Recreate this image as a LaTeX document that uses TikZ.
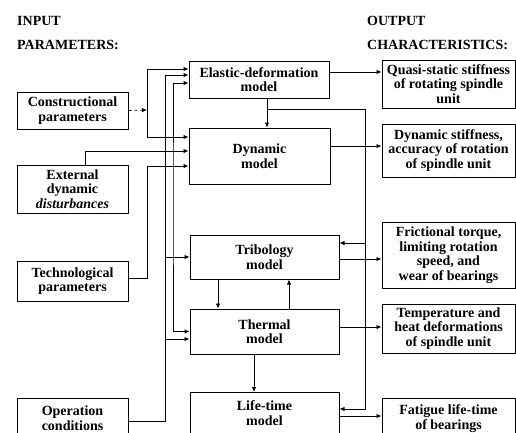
\documentclass[tikz,border=0pt]{standalone}
\usepackage{fontspec}
\setmainfont{Liberation Serif}
\usetikzlibrary{arrows.meta,positioning,calc}

\begin{document}
\begin{tikzpicture}[x=1pt, y=-1pt,
  box/.style={rectangle, draw=black, line width=1pt, inner sep=1pt,
              font=\fontsize{14}{14.5}\selectfont\bfseries, align=center},
  inbox/.style={box, minimum width=111pt},
  model/.style={box, minimum width=149pt},
  outbox/.style={box, minimum width=133pt},
  head/.style={anchor=west, inner sep=1pt, font=\fontsize{14}{14.5}\selectfont\bfseries},
  arr/.style={-{Latex[length=5pt,width=4.5pt]}, line width=0.8pt},
  dbl/.style={{Latex[length=5pt,width=4.5pt]}-{Latex[length=5pt,width=4.5pt]}, line width=0.8pt}
]
\useasboundingbox (0,0) rectangle (516,432);

% Headings
\node[head] (inhead) at (16,21) {INPUT};
\node[head] (inparam) at (16,45) {PARAMETERS:};
\node[head] (outhead) at (366,21) {OUTPUT};
\node[head] (outchar) at (366,45) {CHARACTERISTICS:};

% Input parameters
\node[inbox, minimum height=37pt] (constr) at (72.5,110.5) {Constructional\\parameters};
\node[inbox, minimum height=48pt] (extdist) at (72.5,189) {External\\dynamic\\\textit{disturbances}};
\node[inbox, minimum height=40pt] (techn) at (72.5,281) {Technological\\parameters};
\node[inbox, anchor=north, text depth=40pt] (oper) at (72.5,398) {\rule{0pt}{16pt}Operation\\conditions};

% Models
\node[model, minimum width=140pt, minimum height=37pt] (elastic) at (259,79.5) {Elastic-deformation\\model};
\node[model, minimum width=141pt, minimum height=56pt] (dynamic) at (259.5,156) {Dynamic\\model};
\node[model, minimum height=44pt] (tribo) at (264.5,257) {Tribology\\model};
\node[model, minimum height=45pt] (thermal) at (264.5,331.5) {Thermal\\model};
\node[model, anchor=north, text depth=40pt] (lifetime) at (264.5,392) {\rule{0pt}{17pt}Life-time\\model};

% Output characteristics
\node[outbox, minimum height=48pt] (quasi) at (448.5,84) {Quasi-static stiffness\\of rotating spindle\\unit};
\node[outbox, minimum height=53pt] (dynstiff) at (448.5,150.5) {Dynamic stiffness,\\accuracy of rotation\\of spindle unit};
\node[outbox, minimum height=66pt] (fric) at (448.5,255) {Frictional torque,\\limiting rotation\\speed, and\\wear of bearings};
\node[outbox, minimum height=49pt] (temp) at (448.5,328.5) {Temperature and\\heat deformations\\of spindle unit};
\node[outbox, anchor=north, text depth=40pt] (fatigue) at (448.5,398) {\rule{0pt}{15pt}Fatigue life-time\\of bearings};

% Inputs to models
\coordinate (cbus) at (147,110);
\draw[arr, dashed] (constr.east) -- (cbus);
\draw[arr] (cbus) |- ([yshift=10.5pt]elastic.west);
\draw[arr] (cbus) |- ([yshift=19pt]dynamic.west);

\draw[arr] ([xshift=12.5pt]extdist.north) |- ([yshift=5pt]dynamic.west);

\coordinate (tbus) at (147,166);
\draw[arr] ([yshift=3pt]techn.east) -| (tbus) -- (tbus -| dynamic.west);

\coordinate (obus) at (165,75);
\coordinate (th-in2) at ([yshift=-7.5pt]thermal.west);
\draw[arr] ([yshift=-23pt]oper.north east) -| (obus) -- (obus -| elastic.west);
\draw[arr] (obus |- tribo.west) -- (tribo.west);
\draw[arr] (obus |- th-in2) -- (th-in2);

% Elastic <-> thermal
\coordinate (el-in3) at ([yshift=-3.5pt]elastic.west);
\coordinate (ebus) at (173,200);
\draw[dbl] (el-in3) -| (ebus) |- (thermal.west);

% Between models
\coordinate (el-dn) at ([xshift=8pt]elastic.south);
\draw[arr] (el-dn) -- (el-dn |- dynamic.north);
\coordinate (rbus) at (365,109);
\coordinate (tr-in) at ([yshift=14pt]tribo.east);
\coordinate (lt-in) at ([yshift=-17pt]lifetime.north east);
\draw[arr] (el-dn |- rbus) -- (rbus) |- (lt-in);
\draw[arr] (rbus |- tr-in) -- (tr-in);
\draw[arr] ([xshift=-46.5pt]tribo.south) -- ([xshift=-46.5pt]thermal.north);
\draw[arr] ([xshift=24.5pt]thermal.north) -- ([xshift=24.5pt]tribo.south);
\draw[arr] ([xshift=-10.5pt]thermal.south) -- ([xshift=-10.5pt]lifetime.north);

% Models to outputs
\coordinate (el-out) at ([yshift=7.5pt]elastic.east);
\draw[arr] (el-out) -- (el-out -| quasi.west);
\coordinate (dy-out) at ([yshift=10pt]dynamic.east);
\draw[arr] (dy-out) -- (dy-out -| dynstiff.west);
\coordinate (tr-out) at ([yshift=-2pt]tribo.east);
\draw[arr] (tr-out) -- (tr-out -| fric.west);
\coordinate (th-out) at ([yshift=4.5pt]thermal.east);
\draw[arr] (th-out) -- (th-out -| temp.west);
\coordinate (lt-out) at ([yshift=-24pt]lifetime.north east);
\draw[arr] (lt-out) -- (lt-out -| fatigue.west);
\end{tikzpicture}
\end{document}
